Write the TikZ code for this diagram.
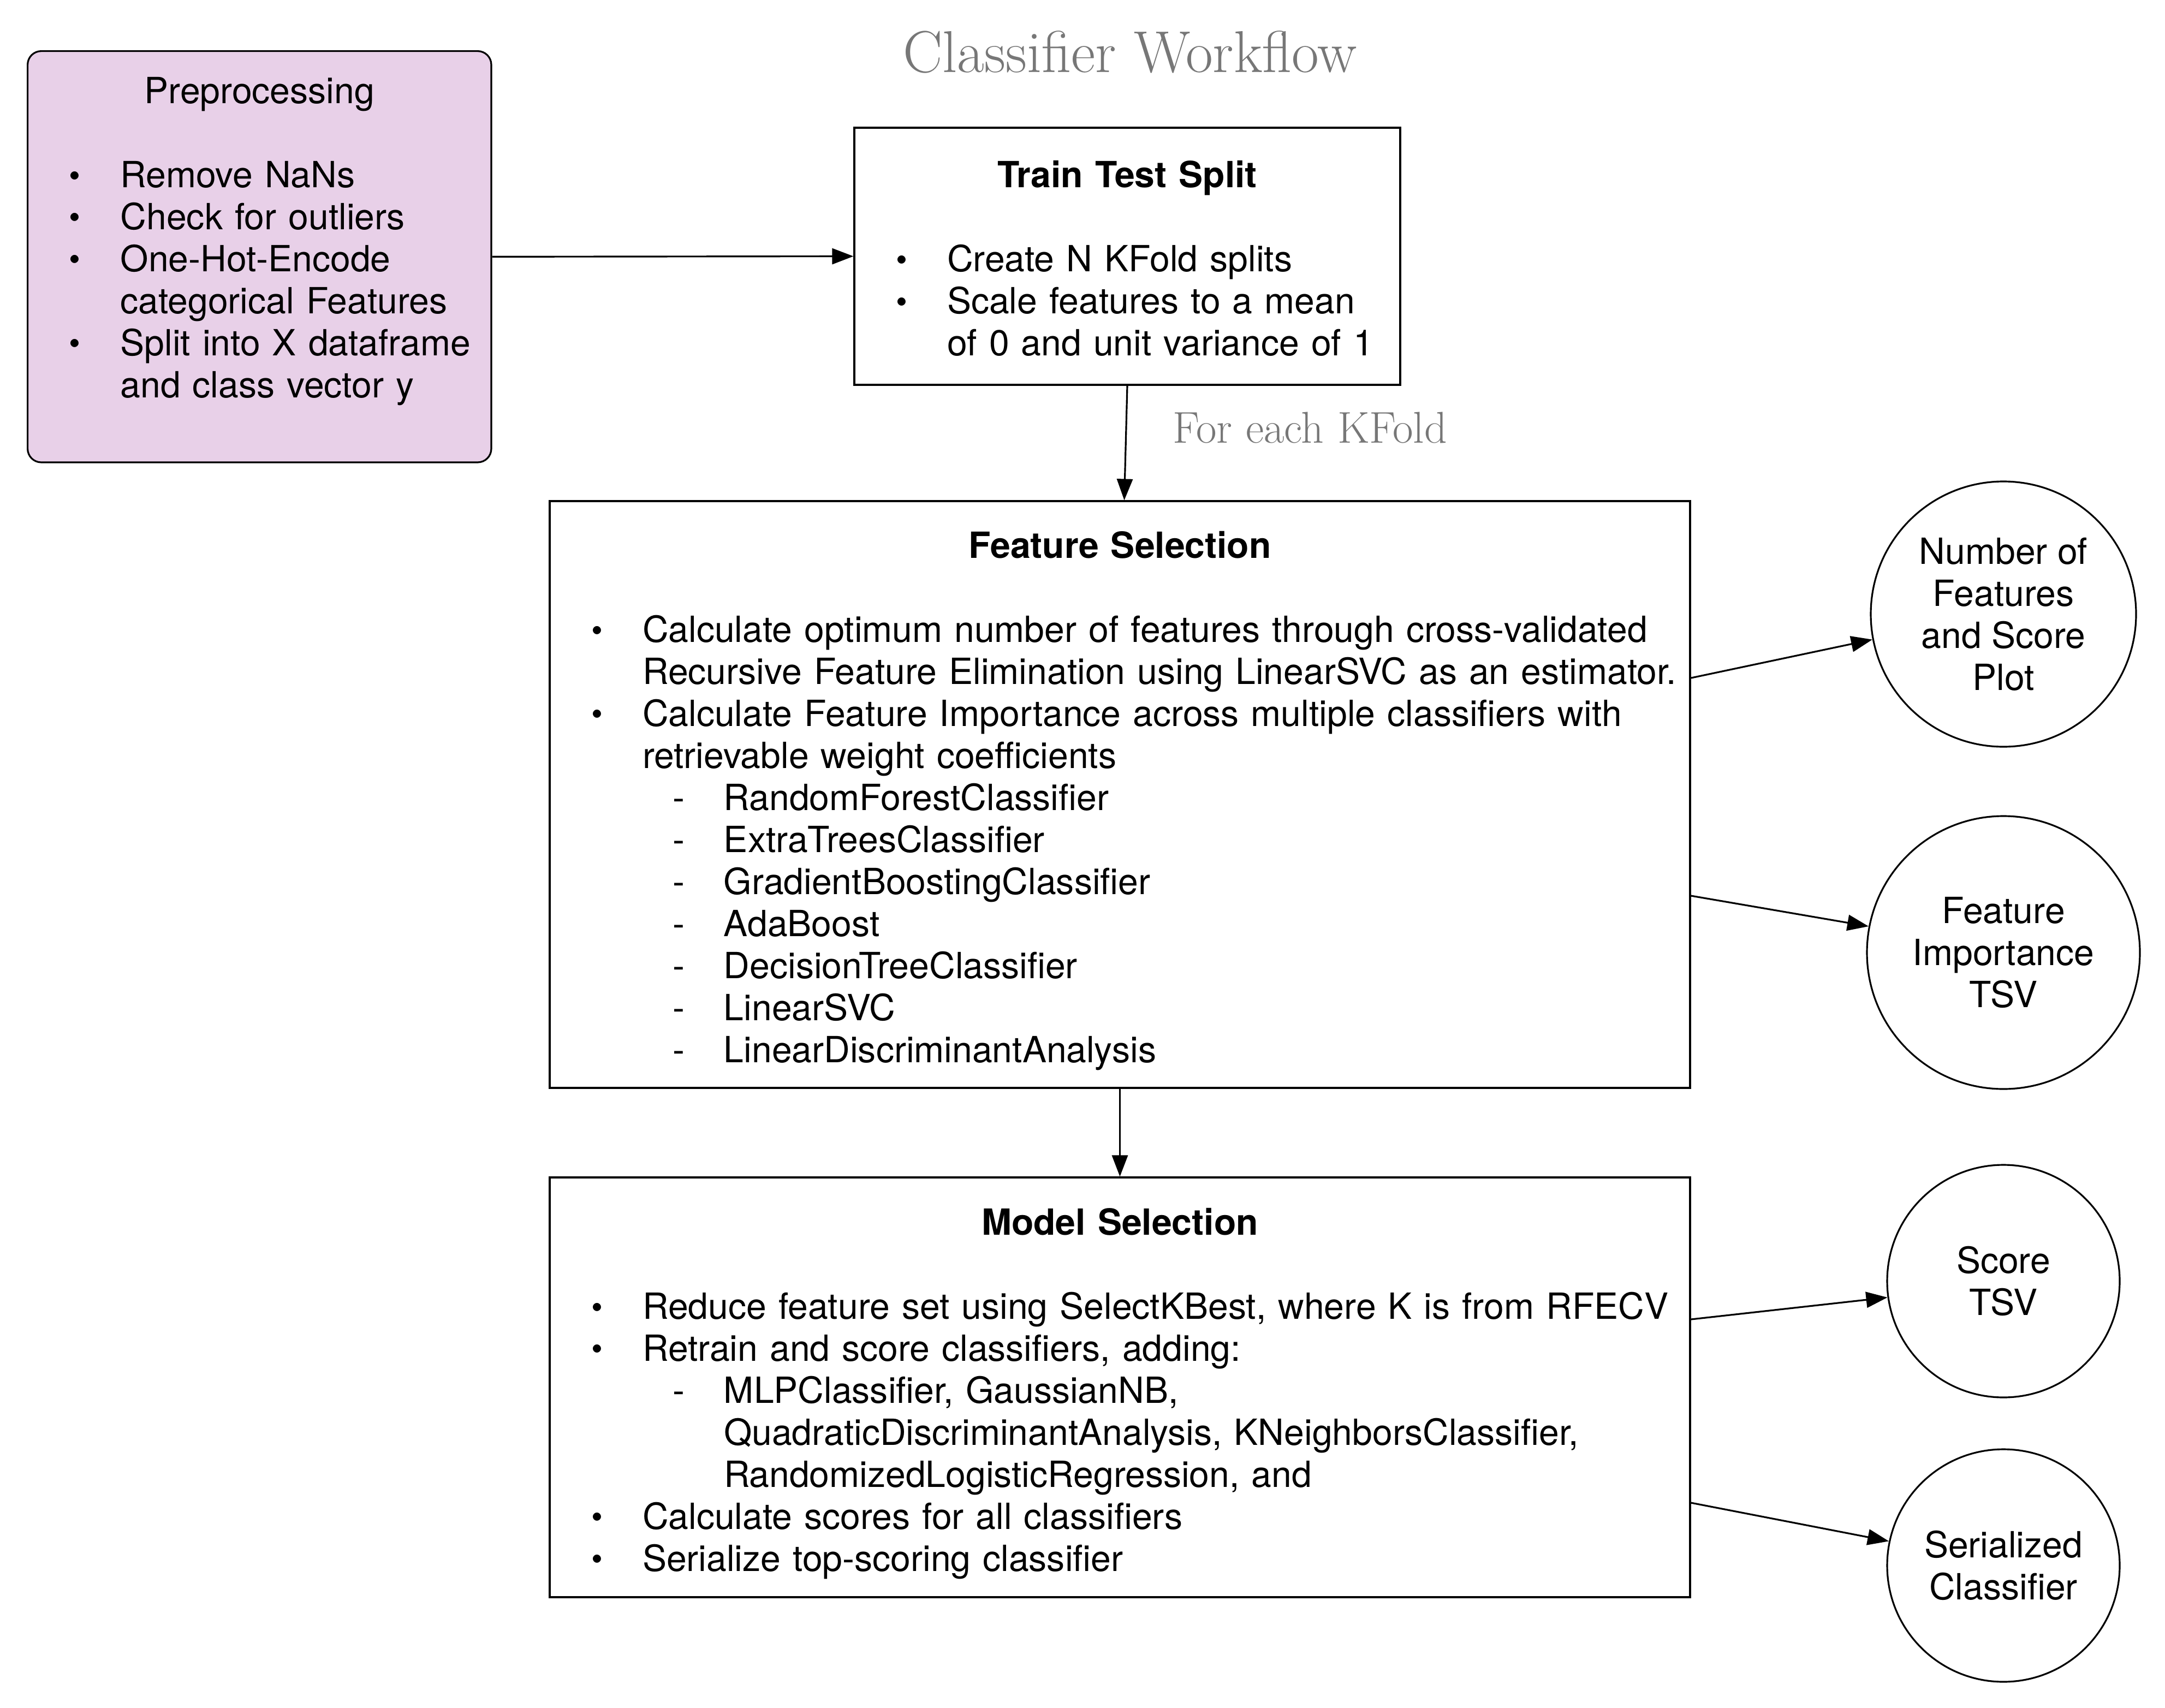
\documentclass[tikz,border=0pt]{standalone}
\usepackage{fontspec}
\newfontfamily\helv{TeX Gyre Heros}
\usetikzlibrary{arrows.meta}
\usetikzlibrary{positioning}

\definecolor{ppfill}{HTML}{E8D0E8}
\definecolor{notegray}{HTML}{777777}

\newcommand{\bulmark}{\raisebox{0.5pt}{\fontsize{17}{17}\selectfont\textbullet}}
\newcommand{\bul}[1]{\par\noindent\makebox[0.94cm][l]{\bulmark}\mbox{#1}}
\newcommand{\cnt}[1]{\par\noindent\hspace*{0.94cm}\mbox{#1}}
\newcommand{\subi}[1]{\par\noindent\hspace*{1.49cm}\makebox[0.94cm][l]{-}\mbox{#1}}
\newcommand{\subc}[1]{\par\noindent\hspace*{2.43cm}\mbox{#1}}
% title line, with a strut of given height to move the text block
\newcommand{\boxtitle}[2]{{\centering\rule{0pt}{#1}#2\par}\mbox{}}

\begin{document}
\begin{tikzpicture}[
  stagebox/.style={rectangle,draw,line width=0.9pt,inner xsep=0.76cm,inner ysep=0pt,
    font=\helv\fontsize{18.8}{21.9}\selectfont},
  outcircle/.style={circle,draw,line width=0.9pt,inner sep=0pt,align=center,
    font=\helv\fontsize{18.8}{21.9}\selectfont},
  flow/.style={line width=0.9pt,-{Triangle[length=0.39cm,width=0.29cm]}},
  note/.style={text=notegray,font=\fontsize{23.2}{26}\selectfont}]
\useasboundingbox (0,0) rectangle (39.66,-31.29);

\node[anchor=base,text=notegray,font=\fontsize{30.8}{34}\selectfont] (title) at (20.70,-1.32) {Classifier Workflow};

% stages
\node[stagebox,fill=ppfill,rounded corners=0.25cm,minimum width=8.494cm,minimum height=7.534cm,text width=6.974cm] (pp) at (4.753,-4.703) {%
\boxtitle{10pt}{Preprocessing}
\bul{Remove NaNs}
\bul{Check for outliers}
\bul{One-Hot-Encode}
\cnt{categorical Features}
\bul{Split into X dataframe}
\cnt{and class vector y\rule[-20pt]{0pt}{0pt}}};

\node[stagebox,minimum width=10cm,minimum height=4.71cm,text width=8.48cm] (tts) at (20.65,-4.695) {%
\boxtitle{16.4pt}{\bfseries Train Test Split}
\bul{Create N KFold splits}
\bul{Scale features to a mean}
\cnt{of 0 and unit variance of 1}};

\node[stagebox,minimum width=20.89cm,minimum height=10.75cm,text width=19.37cm] (fs) at (20.515,-14.555) {%
\boxtitle{20.7pt}{\bfseries Feature Selection}
\bul{Calculate optimum number of features through cross-validated}
\cnt{Recursive Feature Elimination using LinearSVC as an estimator.}
\bul{Calculate Feature Importance across multiple classifiers with}
\cnt{retrievable weight coefficients}
\subi{RandomForestClassifier}
\subi{ExtraTreesClassifier}
\subi{GradientBoostingClassifier}
\subi{AdaBoost}
\subi{DecisionTreeClassifier}
\subi{LinearSVC}
\subi{LinearDiscriminantAnalysis}};

\node[stagebox,minimum width=20.89cm,minimum height=7.69cm,text width=19.37cm] (ms) at (20.515,-25.415) {%
\boxtitle{20.7pt}{\bfseries Model Selection}
\bul{Reduce feature set using SelectKBest, where K is from RFECV}
\bul{Retrain and score classifiers, adding:}
\subi{MLPClassifier, GaussianNB,}
\subc{QuadraticDiscriminantAnalysis, KNeighborsClassifier,}
\subc{RandomizedLogisticRegression, and}
\bul{Calculate scores for all classifiers}
\bul{Serialize top-scoring classifier}};

% outputs
\node[outcircle,minimum size=4.86cm] (nfeat) at (36.70,-11.25) {Number of\\Features\\and Score\\Plot};
\node[outcircle,minimum size=5.0cm] (fimp) at (36.70,-17.45) {Feature\\Importance\\TSV};
\node[outcircle,minimum size=4.26cm] (score) at (36.70,-23.47) {Score\\TSV};
\node[outcircle,minimum size=4.26cm] (serial) at (36.70,-28.68) {Serialized\\Classifier};

\draw[flow] (pp.east) -- (tts.west);
\draw[flow] (tts.south) -- node[note,anchor=base west,xshift=0.73cm] (kfold) {For each KFold} ([xshift=0.08cm]fs.north);
\draw[flow] (fs.south) -- (ms.north);
\draw[flow] ([yshift=2.135cm]fs.east) -- (nfeat.191);
\draw[flow] ([yshift=-1.855cm]fs.east) -- (fimp.169);
\draw[flow] ([yshift=1.245cm]ms.east) -- (score.188);
\draw[flow] ([yshift=-2.115cm]ms.east) -- (serial.168);

\end{tikzpicture}
\end{document}
